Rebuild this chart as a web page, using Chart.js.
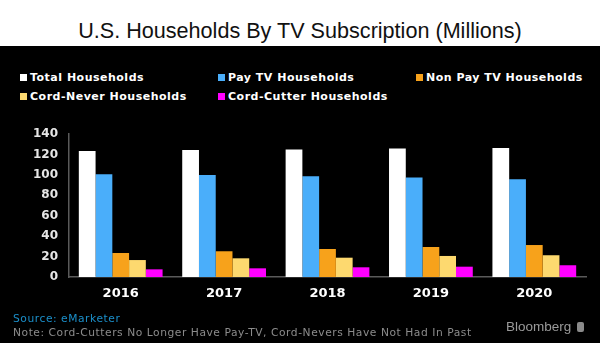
<!DOCTYPE html>
<html>
<head>
<meta charset="utf-8">
<script src="https://cdn.jsdelivr.net/npm/chart.js@4.4.0/dist/chart.umd.min.js"></script>
<style>
  body { margin: 0; width: 600px; height: 343px; overflow: hidden; background: #000; position: relative; }
  #titleBox { position: absolute; left: 0; top: 0; width: 600px; height: 46px; background: #fff; }
  #title { position: absolute; left: 0; top: 18px; width: 600px; text-align: center; white-space: nowrap; line-height: 22px;
    font: 21.6px "Liberation Sans", Arial, sans-serif; color: #111; }
  #legend { position: absolute; left: 20px; top: 70px; width: 580px;
    font: bold 11px "DejaVu Sans", sans-serif; letter-spacing: 0.5px; color: #fff; }
  .item { position: absolute; white-space: nowrap; line-height: 16px; }
  .item span { display: inline-block; width: 7px; height: 7px; margin-right: 3px; vertical-align: 0px; }
  #chartWrap { position: absolute; left: 0; top: 0; width: 600px; height: 343px; }
  #source { position: absolute; left: 13px; top: 312px; font: 10.7px "DejaVu Sans", sans-serif; letter-spacing: 0.55px; color: #1b8fca; }
  #note { position: absolute; left: 13px; top: 326px; font: 10.7px "DejaVu Sans", sans-serif; letter-spacing: 0.55px; color: #8c8c8c; }
  #brand { position: absolute; left: 506px; top: 319px; font: 13.5px "Liberation Sans", Arial, sans-serif; color: #9a9a9a; }
  #brand i { display: inline-block; width: 7px; height: 10px; background: #8a8a8a; border-radius: 2px; margin-left: 6px; vertical-align: -1px; }
</style>
</head>
<body>
<div id="titleBox"><div id="title">U.S. Households By TV Subscription (Millions)</div></div>
<div id="legend"></div>
<div id="chartWrap"><canvas id="myChart" width="600" height="343"></canvas></div>
<div id="source">Source: eMarketer</div>
<div id="note">Note: Cord-Cutters No Longer Have Pay-TV, Cord-Nevers Have Not Had In Past</div>
<div id="brand">Bloomberg<i></i></div>
<script>
// Hogares por tipo de suscripción (millones)
var anios = ['2016', '2017', '2018', '2019', '2020'];
var totalHogares = [123.4, 124.4, 124.9, 125.7, 126.4];
var hogaresPayTV = [100.6, 99.9, 98.6, 97.3, 95.7];
var hogaresNoPayTV = [23.5, 25.2, 27.4, 29.4, 31.3];
var hogaresCordNever = [16.6, 18.3, 18.9, 20.6, 21.3];
var hogaresCordCutter = [7.5, 8.5, 9.5, 10.1, 11.5];
var ticksY = [0, 20, 40, 60, 80, 100, 120, 140];

var series = [
    { label: 'Total Households', data: totalHogares, color: '#ffffff' },
    { label: 'Pay TV Households', data: hogaresPayTV, color: '#4aaefa' },
    { label: 'Non Pay TV Households', data: hogaresNoPayTV, color: '#f7a21b' },
    { label: 'Cord-Never Households', data: hogaresCordNever, color: '#fdd96f' },
    { label: 'Cord-Cutter Households', data: hogaresCordCutter, color: '#ff00ff' }
];

// Leyenda en tres columnas
var posLeyenda = [[0, 0], [198, 0], [396, 0], [0, 19], [198, 19]];
var legend = document.getElementById('legend');
series.forEach(function(s, i) {
    var div = document.createElement('div');
    div.className = 'item';
    div.style.left = posLeyenda[i][0] + 'px';
    div.style.top = posLeyenda[i][1] + 'px';
    div.innerHTML = '<span style="background:' + s.color + '"></span>' + s.label;
    legend.appendChild(div);
});

var ctx = document.getElementById('myChart').getContext('2d');
var myChart = new Chart(ctx, {
    type: 'bar',
    data: {
        labels: anios,
        datasets: series.map(function(s) {
            return {
                label: s.label,
                data: s.data,
                backgroundColor: s.color,
                borderWidth: 0,
                categoryPercentage: 0.81,
                barPercentage: 1
            };
        })
    },
    options: {
        responsive: false,
        animation: false,
        layout: { padding: { left: 0, right: 14, top: 134, bottom: 36 } },
        plugins: { legend: { display: false }, tooltip: { enabled: false } },
        scales: {
            x: {
                grid: { display: false, drawTicks: false },
                border: { color: '#5a5a5a', width: 1.5 },
                ticks: { color: '#ffffff', font: { family: 'DejaVu Sans', weight: 'bold', size: 13 }, padding: 9 },
                afterFit: function(scale) { scale.height = 30; }
            },
            y: {
                min: 0,
                max: 140,
                grid: { display: false, drawTicks: false },
                border: { color: '#5a5a5a', width: 1.5 },
                afterBuildTicks: function(scale) {
                    scale.ticks = ticksY.map(function(v) { return { value: v }; });
                },
                ticks: { color: '#e6e6e6', font: { family: 'DejaVu Sans', weight: 'bold', size: 12 }, padding: 11 },
                afterFit: function(scale) { scale.width = 69; }
            }
        }
    }
});
</script>
</body>
</html>
